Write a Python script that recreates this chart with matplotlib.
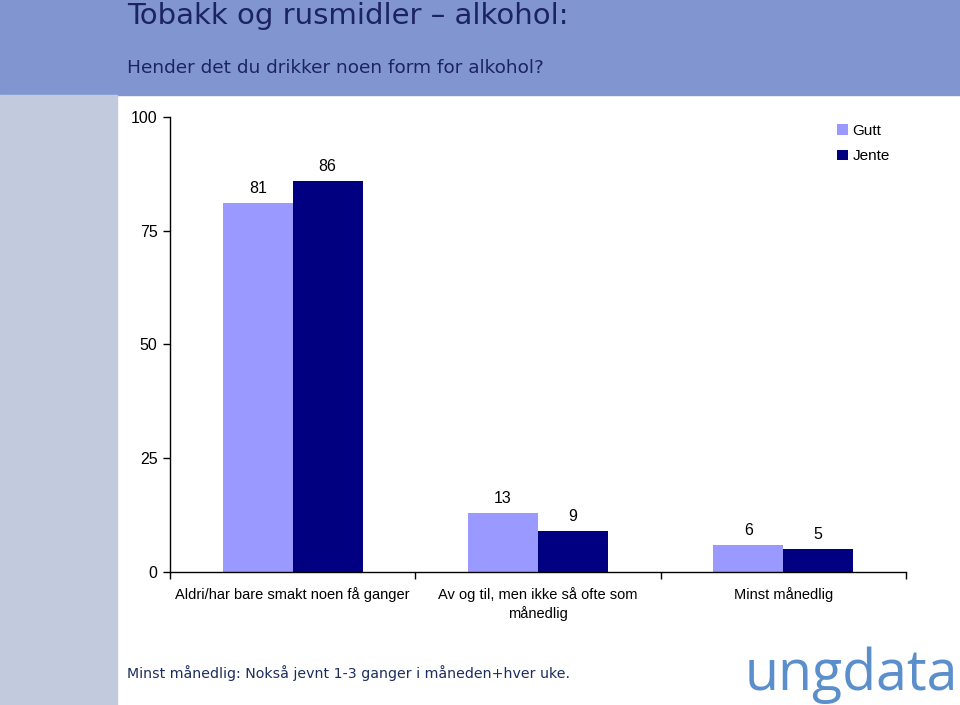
import matplotlib
matplotlib.use("Agg")
import numpy as np
from matplotlib import pyplot as plt
from matplotlib.patches import Rectangle

categories = ["Aldri/har bare smakt noen få ganger",
              "Av og til, men ikke så ofte som\nmånedlig",
              "Minst månedlig"]
gutt = [81, 13, 6]
jente = [86, 9, 5]
series_names = ["Gutt", "Jente"]
yticks = [0, 25, 50, 75, 100]

title = "Tobakk og rusmidler – alkohol:"
subtitle = "Hender det du drikker noen form for alkohol?"
footnote = "Minst månedlig: Nokså jevnt 1-3 ganger i måneden+hver uke."

fig = plt.figure(figsize=(9.6, 7.05), dpi=100)

# background bands
fig.patches.append(Rectangle((0, 1 - 95 / 705), 1, 95 / 705, transform=fig.transFigure,
                             color="#8196d1", zorder=0))
fig.patches.append(Rectangle((0, 0), 117 / 960, 1 - 95 / 705, transform=fig.transFigure,
                             color="#c2cbde", zorder=0))

fig.text(127 / 960, 1 - 16 / 705, title, fontsize=21, color="#1c2362",
         family="DejaVu Sans", va="center", ha="left")
fig.text(127 / 960, 1 - 68 / 705, subtitle, fontsize=13.3, color="#1c2362",
         family="DejaVu Sans", va="center", ha="left")
fig.text(127 / 960, 1 - 673 / 705, footnote, fontsize=10.2, color="#1c2d5e",
         family="DejaVu Sans", va="center", ha="left")
fig.text(958 / 960, 1 - 690 / 705, "ungdata", fontsize=40, color="#5b8fcc",
         family="Open Sans", va="baseline", ha="right")

ax = fig.add_axes([170 / 960, 1 - 572 / 705, 736 / 960, 455 / 705])
x = np.arange(len(categories))
w = 0.285
b1 = ax.bar(x - w / 2, gutt, w, color="#9999ff", label=series_names[0])
b2 = ax.bar(x + w / 2, jente, w, color="#000080", label=series_names[1])

for bars, vals in [(b1, gutt), (b2, jente)]:
    for r, v in zip(bars, vals):
        ax.annotate(str(v), (r.get_x() + r.get_width() / 2, v), xytext=(0, 10.5),
                    textcoords="offset points", ha="center", va="center",
                    fontsize=11.5, family="Liberation Sans")

ax.set_xlim(-0.5, len(categories) - 0.5)
ax.set_ylim(0, 100)
ax.set_yticks(yticks)
ax.set_yticklabels([str(t) for t in yticks], fontsize=11.5, family="Liberation Sans")
ax.set_xticks(np.arange(len(categories) + 1) - 0.5)
ax.set_xticklabels([])
ax.set_xticks(x, minor=True)
ax.set_xticklabels(categories, minor=True, fontsize=10.5, family="Liberation Sans",
                   va="top", linespacing=1.3)
ax.tick_params(axis="x", which="minor", length=0, pad=11)
ax.tick_params(axis="x", which="major", length=5, width=1)
ax.tick_params(axis="y", length=5, width=1, pad=4)
ax.spines["top"].set_visible(False)
ax.spines["right"].set_visible(False)
for s in ["left", "bottom"]:
    ax.spines[s].set_linewidth(1)

leg = ax.legend(loc="upper left", bbox_to_anchor=((837 - 170) / 736, 0.985), frameon=False,
                prop={"family": "Liberation Sans", "size": 11}, handlelength=0.7,
                handleheight=0.7, handletextpad=0.3, labelspacing=0.75,
                borderaxespad=0, borderpad=0)

fig.savefig("out.png", dpi=100)
